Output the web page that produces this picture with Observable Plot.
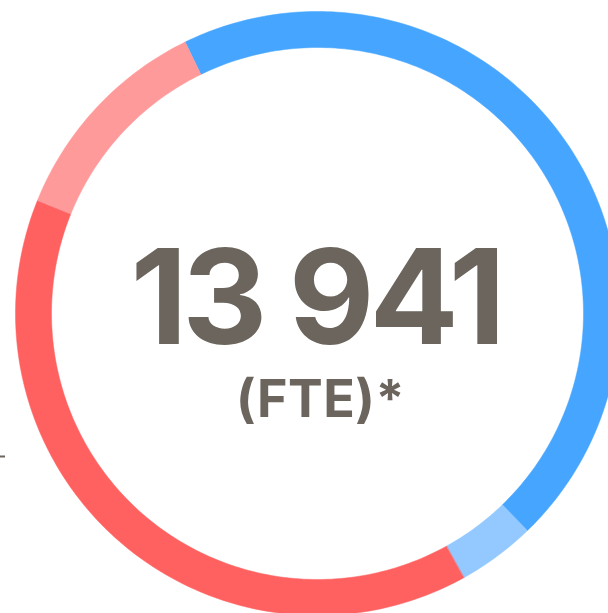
<!DOCTYPE html>
<html>
<head>
<meta charset="utf-8">
<script src="https://cdn.jsdelivr.net/npm/d3@7"></script>
<script src="https://cdn.jsdelivr.net/npm/@observablehq/plot@0.6"></script>
<style>
  html, body { margin: 0; padding: 0; background: #fff; overflow: hidden; }
  .big text { letter-spacing: -5px; }
  .unit text { letter-spacing: 0.5px; }
</style>
</head>
<body>
<div id="chart"></div>
<script>
// Segment data (FTE)
const categories = ["A", "B", "C", "D"];
const values = [6274, 581, 5460, 1626];
const colors = ["#45a5ff", "#93c9ff", "#ff6161", "#ff9a9a"];
const totalLabel = "13 941";
const unitLabel = "(FTE)*";
const startAngleDeg = -26;

const innerRatio = 266 / 302;
const total = d3.sum(values);

// build ring polygons in unit-circle data space
const polys = [];
let acc = 0;
values.forEach((v, i) => {
  const a0 = (startAngleDeg * Math.PI / 180) + acc / total * 2 * Math.PI;
  acc += v;
  const a1 = (startAngleDeg * Math.PI / 180) + acc / total * 2 * Math.PI;
  const n = Math.max(8, Math.ceil((a1 - a0) / (Math.PI / 180)));
  for (let k = 0; k <= n; k++) {
    const a = a0 + (a1 - a0) * k / n;
    polys.push({cat: categories[i], x: Math.sin(a), y: Math.cos(a)});
  }
  for (let k = n; k >= 0; k--) {
    const a = a0 + (a1 - a0) * k / n;
    polys.push({cat: categories[i], x: innerRatio * Math.sin(a), y: innerRatio * Math.cos(a)});
  }
});

const leader = [{y: -0.4735, x1: -1.06, x2: -1.033}];

const chart = Plot.plot({
  width: 608,
  height: 613,
  margin: 0,
  x: {domain: [-1, 1], range: [15, 619], axis: null},
  y: {domain: [-1, 1], range: [615, 11], axis: null},
  color: {domain: categories, range: colors},
  style: {overflow: "visible", background: "#fff"},
  marks: [
    Plot.line(polys, {x: "x", y: "y", z: "cat", fill: "cat", stroke: "cat", strokeWidth: 0.5, curve: "linear-closed"}),
    Plot.ruleY(leader, {y: "y", x1: "x1", x2: "x2", stroke: "#6b655d", strokeWidth: 2}),
    Plot.text([totalLabel], {x: () => 0, y: () => 0, text: d => d, fontSize: 132, fontWeight: 700, fontFamily: "Inter", fill: "#6b655d", dy: -12, dx: -2, className: "big"}),
    Plot.text([unitLabel], {x: () => 0, y: () => 0, text: d => d, fontSize: 52, fontWeight: 700, fontFamily: "Inter", fill: "#6b655d", dy: 87, dx: 3, className: "unit"})
  ]
});
document.getElementById("chart").append(chart);
</script>
</body>
</html>
